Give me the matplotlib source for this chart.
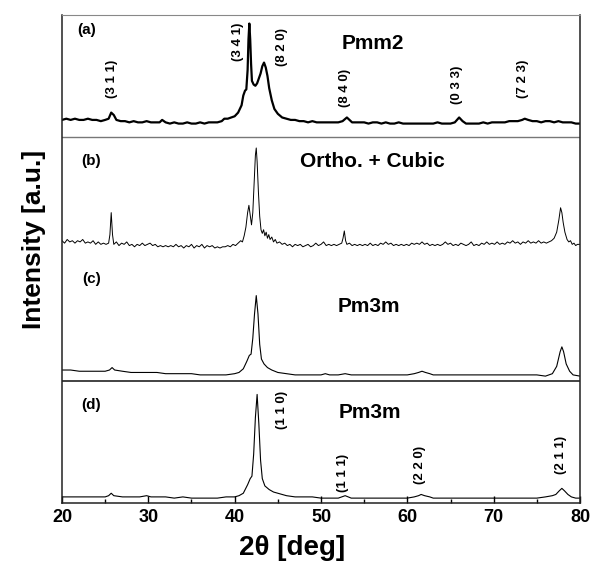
import matplotlib.pyplot as plt
from matplotlib.ticker import MultipleLocator

# XRD patterns, intensity in % of each panel's height
two_theta_a = [20.0, 20.5, 21.0, 21.5, 22.0, 22.5, 23.0, 23.5, 24.0, 24.5, 25.0, 25.4, 25.7, 26.0, 26.3,
               26.8, 27.3, 27.8, 28.3, 28.8, 29.3, 29.8, 30.3, 30.8, 31.3, 31.6, 32.0, 32.5, 33.0, 33.5,
               34.0, 34.5, 35.0, 35.5, 36.0, 36.5, 37.0, 37.5, 38.0, 38.5, 38.8, 39.2, 39.6, 40.0, 40.4,
               40.8, 41.0, 41.2, 41.35, 41.5, 41.6, 41.7, 41.8, 41.9, 42.0, 42.2, 42.4, 42.6, 42.8, 43.0,
               43.2, 43.4, 43.6, 43.8, 44.0, 44.3, 44.6, 45.0, 45.5, 46.0, 46.5, 47.0, 47.5, 48.0, 48.5,
               49.0, 49.5, 50.0, 50.5, 51.0, 51.5, 52.0, 52.5, 53.0, 53.3, 53.6, 54.0, 54.5, 55.0, 55.5,
               56.0, 56.5, 57.0, 57.5, 58.0, 58.5, 59.0, 59.5, 60.0, 60.5, 61.0, 61.5, 62.0, 62.5, 63.0,
               63.5, 64.0, 64.5, 65.0, 65.5, 66.0, 66.4, 66.8, 67.3, 67.8, 68.3, 68.8, 69.3, 69.8, 70.3,
               70.8, 71.3, 71.8, 72.3, 72.8, 73.3, 73.6, 74.0, 74.5, 75.0, 75.5, 76.0, 76.5, 77.0, 77.5,
               78.0, 78.5, 79.0, 79.5, 80.0]
counts_a = [14, 15, 14, 15, 14, 14, 15, 14, 14, 13, 14, 15, 20, 18, 14,
            13, 13, 12, 13, 12, 12, 13, 12, 12, 12, 14, 12, 11, 12, 11,
            11, 12, 11, 11, 12, 11, 12, 12, 12, 13, 15, 15, 16, 17, 20,
            26, 34, 38, 39, 55, 80, 93, 80, 60, 46, 43, 42, 44, 48, 52,
            58, 61, 57, 50, 40, 30, 23, 19, 16, 15, 14, 14, 13, 13, 12,
            13, 12, 12, 12, 12, 12, 12, 13, 16, 14, 12, 12, 12, 12, 11,
            12, 12, 11, 12, 11, 11, 12, 11, 11, 11, 11, 11, 11, 11, 11,
            12, 11, 11, 11, 12, 16, 13, 11, 11, 11, 11, 12, 11, 12, 12,
            12, 12, 13, 13, 13, 14, 15, 14, 13, 13, 12, 13, 13, 12, 13,
            12, 12, 12, 11, 11]

two_theta_b = [20.0, 20.3, 20.6, 20.9, 21.2, 21.5, 21.8, 22.1, 22.4, 22.7, 23.0, 23.3, 23.6, 23.9, 24.2,
               24.5, 24.8, 25.1, 25.4, 25.55, 25.7, 25.85, 26.0, 26.3, 26.6, 26.9, 27.2, 27.5, 27.8, 28.1,
               28.4, 28.7, 29.0, 29.3, 29.6, 29.9, 30.2, 30.5, 30.8, 31.1, 31.4, 31.7, 32.0, 32.3, 32.6,
               32.9, 33.2, 33.5, 33.8, 34.1, 34.4, 34.7, 35.0, 35.3, 35.6, 35.9, 36.2, 36.5, 36.8, 37.1,
               37.4, 37.7, 38.0, 38.3, 38.6, 38.9, 39.2, 39.5, 39.8, 40.1, 40.4, 40.7, 40.9, 41.1, 41.3,
               41.5, 41.65, 41.8, 41.95, 42.1, 42.25, 42.4, 42.5, 42.6, 42.75, 42.9, 43.05, 43.2, 43.35, 43.5,
               43.65, 43.8, 43.95, 44.1, 44.3, 44.5, 44.7, 44.9, 45.2, 45.5, 45.8, 46.1, 46.4, 46.7, 47.0,
               47.3, 47.6, 47.9, 48.2, 48.5, 48.8, 49.1, 49.4, 49.7, 50.0, 50.3, 50.6, 50.9, 51.2, 51.5,
               51.8, 52.1, 52.4, 52.55, 52.7, 52.85, 53.0, 53.3, 53.6, 53.9, 54.2, 54.5, 54.8, 55.1, 55.4,
               55.7, 56.0, 56.3, 56.6, 56.9, 57.2, 57.5, 57.8, 58.1, 58.4, 58.7, 59.0, 59.3, 59.6, 59.9,
               60.2, 60.5, 60.8, 61.1, 61.4, 61.7, 62.0, 62.3, 62.6, 62.9, 63.2, 63.5, 63.8, 64.1, 64.4,
               64.7, 65.0, 65.3, 65.6, 65.9, 66.2, 66.5, 66.8, 67.1, 67.4, 67.7, 68.0, 68.3, 68.6, 68.9,
               69.2, 69.5, 69.8, 70.1, 70.4, 70.7, 71.0, 71.3, 71.6, 71.9, 72.2, 72.5, 72.8, 73.1, 73.4,
               73.7, 74.0, 74.3, 74.6, 74.9, 75.2, 75.5, 75.8, 76.1, 76.4, 76.7, 77.0, 77.3, 77.55, 77.75,
               77.9, 78.05, 78.25, 78.5, 78.7, 78.9, 79.1, 79.3, 79.5, 79.7, 80.0]
counts_b = [15, 13, 16, 14, 15, 13, 15, 14, 16, 13, 14, 13, 15, 12, 14,
            12, 13, 12, 13, 20, 38, 20, 12, 14, 11, 13, 12, 14, 11, 12,
            10, 12, 11, 13, 11, 12, 13, 11, 12, 10, 11, 10, 11, 10, 11,
            10, 12, 10, 11, 9, 11, 10, 12, 9, 11, 10, 12, 9, 11, 10,
            11, 9, 10, 9, 10, 10, 11, 10, 12, 11, 13, 15, 14, 19, 26,
            38, 44, 36, 28, 38, 62, 85, 91, 80, 55, 35, 24, 21, 24, 19,
            22, 17, 20, 16, 18, 14, 16, 13, 14, 12, 13, 11, 12, 10, 12,
            11, 12, 10, 11, 12, 10, 11, 13, 11, 12, 14, 11, 12, 11, 12,
            11, 12, 13, 17, 23, 15, 12, 13, 11, 12, 11, 12, 11, 12, 11,
            13, 11, 12, 11, 13, 12, 14, 12, 13, 11, 12, 11, 12, 11, 12,
            11, 13, 12, 13, 12, 14, 12, 13, 11, 12, 11, 12, 11, 12, 14,
            12, 13, 11, 12, 11, 13, 12, 11, 12, 14, 11, 12, 11, 13, 12,
            14, 12, 13, 12, 14, 12, 13, 12, 14, 13, 15, 13, 14, 12, 14,
            13, 15, 13, 14, 13, 15, 13, 14, 13, 14, 15, 17, 22, 32, 42,
            38, 30, 22, 16, 14, 15, 12, 13, 11, 12, 12]

two_theta_c = [20.0, 21.0, 22.0, 23.0, 24.0, 25.0, 25.5, 25.8, 26.1, 27.0, 28.0, 29.0, 30.0, 31.0, 32.0,
               33.0, 34.0, 35.0, 36.0, 37.0, 38.0, 39.0, 40.0, 40.5, 41.0, 41.4, 41.7, 41.9, 42.1, 42.3,
               42.5, 42.7, 42.9, 43.1, 43.4, 43.8, 44.3, 45.0, 46.0, 47.0, 48.0, 49.0, 50.0, 50.5, 51.0,
               52.0, 52.8, 53.5, 54.0, 55.0, 56.0, 57.0, 58.0, 59.0, 60.0, 60.8, 61.3, 61.7, 62.1, 62.6,
               63.0, 64.0, 65.0, 66.0, 67.0, 68.0, 69.0, 70.0, 71.0, 72.0, 73.0, 74.0, 75.0, 76.0, 76.8,
               77.3, 77.7, 77.9, 78.1, 78.4, 78.8, 79.2, 80.0]
counts_c = [9, 9, 8, 8, 8, 8, 9, 11, 9, 8, 7, 7, 7, 7, 6,
            6, 6, 6, 5, 5, 5, 5, 6, 7, 10, 16, 21, 22, 35, 55,
            70, 55, 30, 18, 14, 11, 9, 7, 6, 5, 5, 5, 5, 6, 5,
            5, 6, 5, 5, 5, 5, 5, 5, 5, 5, 6, 7, 8, 7, 6,
            5, 5, 5, 5, 5, 5, 5, 5, 5, 5, 5, 5, 5, 4, 6,
            12, 24, 28, 24, 14, 8, 5, 4]

two_theta_d = [20.0, 21.0, 22.0, 23.0, 24.0, 25.0, 25.4, 25.7, 26.0, 27.0, 28.0, 29.0, 29.8, 30.3, 31.0,
               32.0, 33.0, 34.0, 35.0, 36.0, 37.0, 38.0, 39.0, 40.0, 40.5, 41.0, 41.5, 41.8, 42.0, 42.2,
               42.4, 42.6, 42.8, 43.0, 43.2, 43.5, 44.0, 44.5, 45.0, 46.0, 47.0, 48.0, 49.0, 50.0, 51.0,
               52.0, 52.8, 53.5, 54.0, 55.0, 56.0, 57.0, 58.0, 59.0, 60.0, 60.8, 61.3, 61.6, 62.0, 62.6,
               63.0, 64.0, 65.0, 66.0, 67.0, 68.0, 69.0, 70.0, 71.0, 72.0, 73.0, 74.0, 75.0, 76.0, 76.8,
               77.2, 77.6, 77.9, 78.2, 78.6, 79.0, 79.5, 80.0]
counts_d = [5, 5, 5, 5, 5, 5, 6, 8, 6, 5, 5, 5, 6, 5, 5,
            5, 4, 5, 4, 4, 4, 4, 5, 5, 6, 8, 15, 20, 22, 40,
            70, 89, 65, 35, 20, 14, 11, 9, 8, 6, 5, 5, 5, 4, 4,
            4, 6, 4, 4, 4, 4, 4, 4, 4, 4, 5, 6, 7, 6, 5,
            4, 4, 4, 4, 4, 4, 4, 4, 4, 4, 4, 4, 4, 5, 6,
            7, 10, 12, 10, 7, 5, 4, 4]

panel_labels = ["(a)", "(b)", "(c)", "(d)"]
phase_labels = ["Pmm2", "Ortho. + Cubic", "Pm3m", "Pm3m"]
hkl_a = ["(3 1 1)", "(3 4 1)", "(8 2 0)", "(8 4 0)", "(0 3 3)", "(7 2 3)"]
hkl_d = ["(1 1 0)", "(1 1 1)", "(2 2 0)", "(2 1 1)"]

font = ['Liberation Sans Narrow', 'Liberation Sans', 'DejaVu Sans']
plain = ['Liberation Sans', 'DejaVu Sans']
plt.rcParams['font.family'] = font
plt.rcParams['font.weight'] = 'bold'

fig = plt.figure(figsize=(5.93, 5.63), dpi=100)
ax = fig.add_axes([62 / 593, 1 - 503 / 563, 518 / 593, 488 / 563])

series = [(two_theta_a, counts_a, 3, 1.6),
          (two_theta_b, counts_b, 2, 0.7),
          (two_theta_c, counts_c, 1, 0.8),
          (two_theta_d, counts_d, 0, 0.8)]
for tt, cnt, off, lw in series:
    ax.plot(tt, [off + c / 100 for c in cnt], color='black', lw=lw)

# panel separators
ax.axhline(3, color='#777777', lw=1.0)
ax.axhline(1, color='#222222', lw=1.2)

ax.set_xlim(20, 80)
ax.set_ylim(0, 4)
ax.set_yticks([])
ax.xaxis.set_major_locator(MultipleLocator(10))
ax.xaxis.set_minor_locator(MultipleLocator(5))
ax.tick_params(axis='x', which='major', direction='in', length=5, width=1, labelsize=13, pad=4)
ax.tick_params(axis='x', which='minor', direction='in', length=3, width=1)
for lab in ax.get_xticklabels():
    lab.set_fontweight('bold')
for s in ['left', 'bottom', 'right']:
    ax.spines[s].set_color('#222222')
    ax.spines[s].set_linewidth(1.1)
ax.spines['top'].set_color('#888888')

ax.set_xlabel("2θ [deg]", fontsize=20, fontweight='bold')
ax.xaxis.label.set_va('center')
ax.xaxis.set_label_coords(0.444, -0.092)
ax.set_ylabel("Intensity [a.u.]", fontsize=19, fontweight='bold')
ax.yaxis.set_label_coords(-0.031, 0.54)

# panel tags and phase names
tag_x = [22.9, 23.4, 23.4, 23.4]
tag_y = [3.88, 2.80, 1.84, 0.80]
phase_x = [56.0, 56.0, 55.5, 55.7]
phase_y = [3.77, 2.80, 1.61, 0.74]
for i in range(4):
    ax.text(tag_x[i], tag_y[i], panel_labels[i], fontsize=11, fontweight='bold',
            family=plain, ha='center', va='center')
    ax.text(phase_x[i], phase_y[i], phase_labels[i], fontsize=15, fontweight='bold',
            family=plain, ha='center', va='center')

hkl_a_x = [25.8, 40.4, 45.5, 52.8, 65.7, 73.4]
hkl_a_y = [3.48, 3.78, 3.74, 3.40, 3.43, 3.48]
for lab, x, y in zip(hkl_a, hkl_a_x, hkl_a_y):
    ax.text(x, y, lab, rotation=90, fontsize=9.5, fontweight='bold',
            family=plain, ha='center', va='center')

hkl_d_x = [45.5, 52.6, 61.5, 77.8]
hkl_d_y = [0.76, 0.25, 0.31, 0.39]
for lab, x, y in zip(hkl_d, hkl_d_x, hkl_d_y):
    ax.text(x, y, lab, rotation=90, fontsize=9.5, fontweight='bold',
            family=plain, ha='center', va='center')

fig.savefig("out.png", dpi=100)
